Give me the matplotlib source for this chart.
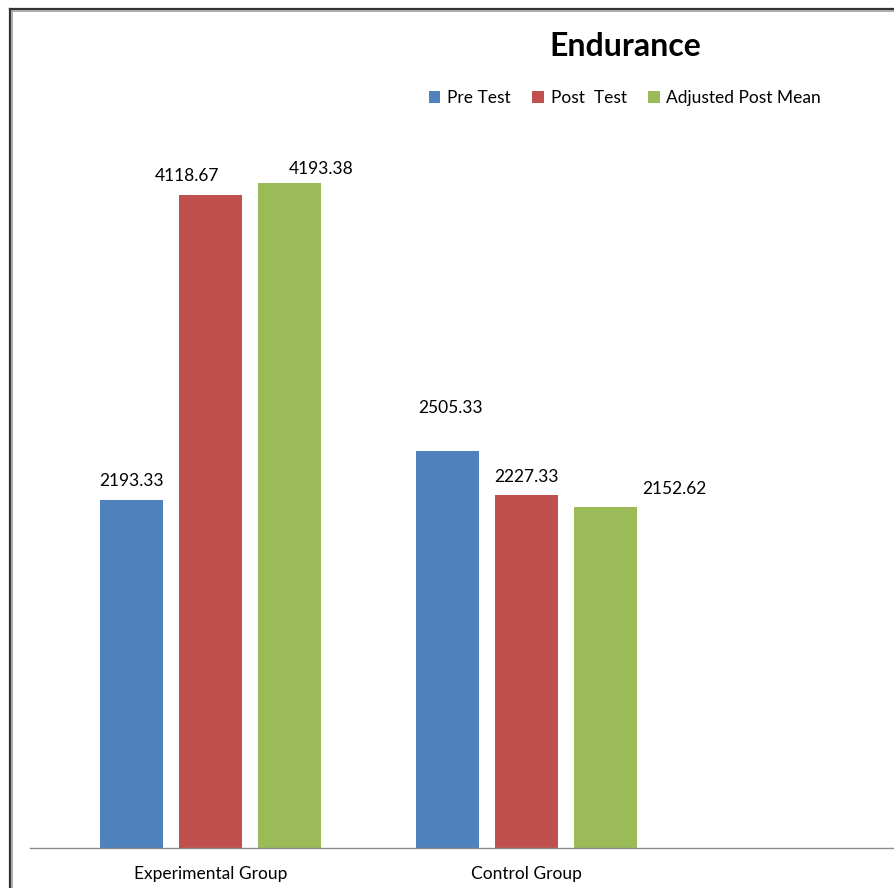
import numpy as np
import matplotlib.pyplot as plt
from matplotlib.lines import Line2D

plt.rcParams['font.family'] = ['Lato', 'DejaVu Sans']

# data
groups = ['Experimental Group', 'Control Group']
series = ['Pre Test', 'Post  Test', 'Adjusted Post Mean']
pre_test = [2193.33, 2505.33]
post_test = [4118.67, 2227.33]
adjusted_post = [4193.38, 2152.62]
colors = ['#4F81BD', '#C0504D', '#9BBB59']

# label offsets in pixels (dx, dy) for each bar, mimicking the original placement
label_offsets = [
    [(0, 19), (3, 43)],
    [(-23, 19), (0, 18)],
    [(32, 14), (69, 18)],
]

fig = plt.figure(figsize=(8.95, 8.88), dpi=100)
W, H = 895, 888
# axes: baseline at y=848 px, left at x=30 px, runs past right edge
ax = fig.add_axes([30 / W, (H - 848) / H, 1 - 30 / W, 713.6 / H])

x = np.arange(len(groups))
width = 0.199
step = 0.25
values = [pre_test, post_test, adjusted_post]

for i, (vals, name, c) in enumerate(zip(values, series, colors)):
    pos = x + (i - 1) * step
    ax.bar(pos, vals, width, color=c, label=name, zorder=2)
    for j, v in enumerate(vals):
        dx, dy = label_offsets[i][j]
        ax.annotate(f'{v:.2f}', xy=(pos[j], v), xytext=(dx, dy),
                    textcoords='offset pixels', ha='center', va='center',
                    fontsize=12.5, color='#000000')

ax.set_xlim(-0.571, 2.166)
ax.set_ylim(0, 4500)
ax.set_yticks([])
ax.set_xticks(x)
ax.set_xticklabels(groups, fontsize=12.5)
ax.tick_params(axis='x', length=0, pad=13)
for s in ['top', 'right', 'left']:
    ax.spines[s].set_visible(False)
ax.spines['bottom'].set_color('#8C8C8C')
ax.spines['bottom'].set_linewidth(1)

# title and legend
fig.text(625 / W, 1 - 47 / H, 'Endurance', ha='center', va='center',
         fontsize=23, fontweight='bold')
leg = fig.legend(loc='center', bbox_to_anchor=(625 / W, 1 - 98 / H), ncol=3,
                 frameon=False, fontsize=12.5, handlelength=0.65, handleheight=0.65,
                 handletextpad=0.4, columnspacing=1.25)

# frame border on left and top
fig.add_artist(Line2D([10 / W, 10 / W], [0, 1 - 9 / H], color='#333333', lw=1.6,
                      transform=fig.transFigure))
fig.add_artist(Line2D([10 / W, 1], [1 - 9 / H, 1 - 9 / H], color='#333333', lw=1.6,
                      transform=fig.transFigure))
fig.add_artist(Line2D([12 / W, 12 / W], [0, 1 - 11 / H], color='#A0A0A0', lw=1.2,
                      transform=fig.transFigure))
fig.add_artist(Line2D([12 / W, 1], [1 - 11 / H, 1 - 11 / H], color='#A0A0A0', lw=1.2,
                      transform=fig.transFigure))

fig.savefig('out.png', dpi=100)
